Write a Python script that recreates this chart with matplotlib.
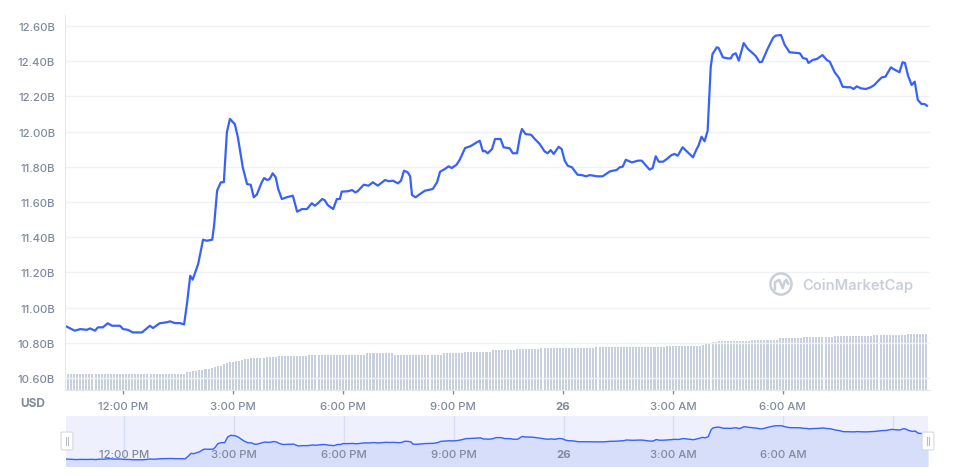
import numpy as np
import matplotlib.pyplot as plt
from matplotlib.patches import FancyBboxPatch, Circle

plt.rcParams['font.family'] = ['Inter', 'DejaVu Sans']

# minutes after 10:25 AM (Nov 25) and market cap in billions USD
minutes = [0, 16, 25, 36, 41, 49, 54, 62, 70, 77, 90, 95, 103, 111, 126, 139, 144, 155, 167, 172,
           180, 188, 195, 200, 205, 209, 218, 226, 232, 241, 244, 249, 255, 260, 265, 270, 275, 278,
           283, 291, 298, 304, 309, 314, 322, 326, 331, 335, 340, 345, 349, 355, 363, 373, 380, 388,
           396, 404, 409, 414, 421, 425, 430, 439, 445, 450, 453, 463, 470, 475, 479, 489, 497, 504,
           512, 524, 530, 537, 545, 550, 555, 561, 565, 568, 574, 581, 589, 594, 602, 609, 614, 622,
           628, 633, 641, 646, 655, 663, 668, 674, 679, 684, 687, 692, 699, 704, 713, 718, 728, 733,
           740, 745, 748, 754, 763, 769, 777, 785, 790, 795, 800, 808, 813, 818, 823, 830, 839, 846,
           853, 859, 871, 880, 892, 903, 908, 913, 918, 928, 938, 944, 957, 962, 967, 972, 979, 985,
           993, 998, 1003, 1011, 1028, 1034, 1037, 1042, 1047, 1052, 1057, 1060, 1067, 1070, 1077,
           1085, 1090, 1093, 1098, 1103, 1111, 1118, 1126, 1131, 1137, 1141, 1150, 1159, 1163, 1172,
           1178, 1186, 1198, 1203, 1208, 1214, 1217, 1224, 1231, 1240, 1247, 1252, 1260, 1267, 1273,
           1280, 1286, 1291, 1296, 1303, 1311, 1319, 1325, 1330, 1337, 1343, 1352, 1358, 1366, 1371,
           1375, 1380, 1386, 1391, 1396, 1402, 1407, 1411]
market_cap = [10.897, 10.869, 10.878, 10.874, 10.882, 10.869, 10.888, 10.888, 10.911, 10.897, 10.897,
              10.878, 10.874, 10.859, 10.859, 10.897, 10.884, 10.911, 10.917, 10.922, 10.912, 10.912,
              10.905, 11.032, 11.181, 11.159, 11.248, 11.386, 11.380, 11.386, 11.465, 11.664, 11.712,
              11.712, 11.996, 12.072, 12.053, 12.043, 11.968, 11.797, 11.702, 11.698, 11.627, 11.642,
              11.712, 11.736, 11.725, 11.731, 11.763, 11.740, 11.674, 11.617, 11.627, 11.636, 11.545,
              11.560, 11.560, 11.593, 11.579, 11.593, 11.617, 11.611, 11.583, 11.560, 11.617, 11.617,
              11.659, 11.661, 11.668, 11.655, 11.661, 11.698, 11.693, 11.712, 11.693, 11.725, 11.718,
              11.721, 11.706, 11.721, 11.778, 11.769, 11.746, 11.640, 11.627, 11.645, 11.664, 11.668,
              11.674, 11.712, 11.772, 11.788, 11.803, 11.793, 11.812, 11.839, 11.907, 11.916, 11.926,
              11.939, 11.948, 11.888, 11.891, 11.877, 11.901, 11.958, 11.958, 11.911, 11.905, 11.877,
              11.877, 11.977, 12.015, 11.986, 11.982, 11.958, 11.930, 11.888, 11.877, 11.895, 11.873,
              11.914, 11.901, 11.835, 11.806, 11.797, 11.755, 11.753, 11.746, 11.753, 11.746, 11.746,
              11.774, 11.782, 11.797, 11.801, 11.840, 11.825, 11.835, 11.835, 11.784, 11.793, 11.860,
              11.829, 11.829, 11.844, 11.867, 11.873, 11.863, 11.911, 11.854, 11.901, 11.920, 11.971,
              11.945, 12.005, 12.365, 12.441, 12.479, 12.475, 12.422, 12.416, 12.416, 12.437, 12.445,
              12.403, 12.503, 12.469, 12.445, 12.428, 12.394, 12.397, 12.469, 12.532, 12.545, 12.549,
              12.494, 12.451, 12.447, 12.445, 12.418, 12.413, 12.390, 12.407, 12.413, 12.435, 12.407,
              12.397, 12.337, 12.305, 12.255, 12.252, 12.252, 12.242, 12.257, 12.246, 12.242, 12.252,
              12.265, 12.284, 12.308, 12.312, 12.365, 12.352, 12.337, 12.394, 12.390, 12.318, 12.265,
              12.284, 12.180, 12.157, 12.157, 12.147]

# volume bars, one every 5 minutes, written as runs of equal height
vol_levels = [1.60, 1.77, 1.83, 1.90, 1.95, 2.00, 2.05, 2.10, 2.15, 2.25, 2.35, 2.45, 2.57, 2.70,
              2.78, 2.85, 2.90, 2.95, 3.03, 3.10, 3.13, 3.18, 3.20, 3.25, 3.27, 3.30, 3.35, 3.37,
              3.40, 3.50, 3.55, 3.67, 3.52, 3.55, 3.75, 3.85, 4.00, 4.10, 4.20, 4.30, 4.40, 4.50,
              4.60, 4.70, 4.80, 4.85, 4.95, 5.05, 5.20, 5.30, 5.40, 5.50, 5.60]
vol_runs = [40, 1, 1, 1, 1, 1, 1, 1, 1, 1, 1, 2, 1, 1,
            1, 1, 1, 1, 1, 1, 1, 1, 3, 1, 1, 2, 1, 1,
            9, 9, 10, 9, 4, 12, 7, 9, 8, 8, 18, 23, 12, 1,
            1, 1, 1, 1, 11, 9, 8, 10, 13, 11, 7]

tick_minutes = [720, 900, 1080, 1260, 1440, 1620, 1800]
tick_labels = ['12:00 PM', '3:00 PM', '6:00 PM', '9:00 PM', '26', '3:00 AM', '6:00 AM']
nav_grid = [720, 900, 1080, 1260, 1440, 1620, 1800, 1980]
price_ticks = [10.6, 10.8, 11.0, 11.2, 11.4, 11.6, 11.8, 12.0, 12.2, 12.4, 12.6]

start = 625  # 10:25 AM in minutes after midnight
t = np.array(minutes) + start
volume = np.repeat(vol_levels, vol_runs)
t_vol = start + 5 * np.arange(len(volume))

blue = '#3861fb'
label_c = '#808a9d'
grid_c = '#eff2f5'

fig = plt.figure(figsize=(9.56, 4.77), dpi=100)
W, H = 956, 477
pos = [65 / W, 1 - 391 / H, 865 / W, 375 / H]

ax_vol = fig.add_axes(pos)
ax_vol.bar(t_vol, volume, width=3.3, color='#c9d0dd', align='center')
ax_vol.set_ylim(0, 37.5)
ax_vol.set_xlim(start, start + 1416)
ax_vol.axis('off')

ax = fig.add_axes(pos, facecolor='none')
ax.plot(t, market_cap, color=blue, lw=1.6, solid_joinstyle='round')
ax.set_xlim(start, start + 1416)
ax.set_ylim(10.532, 12.6625)
ax.set_yticks(price_ticks)
ax.set_yticklabels(['%.2fB' % v for v in price_ticks])
ax.set_xticks(tick_minutes)
ax.set_xticklabels(tick_labels)
for lbl in ax.get_xticklabels() + ax.get_yticklabels():
    lbl.set_fontweight('medium')
    if lbl.get_text() == '26':
        lbl.set_fontweight('bold')
ax.yaxis.grid(True, color=grid_c, lw=1)
ax.set_axisbelow(True)
ax.tick_params(axis='y', length=0, pad=7, labelsize=8.2, labelcolor=label_c)
ax.tick_params(axis='x', length=3, width=1, color=label_c, pad=5, labelsize=8.2, labelcolor=label_c)
for s in ['top', 'right']:
    ax.spines[s].set_visible(False)
for s in ['left', 'bottom']:
    ax.spines[s].set_color('#e3e7ee')

fig.text(33 / W, 1 - 404 / H, 'USD', ha='center', va='center', fontsize=8.5,
         fontweight='bold', color=label_c)

# watermark
wm = '#c9ced9'
fig.text(802 / W, 1 - 286 / H, 'CoinMarketCap', ha='left', va='center', fontsize=10.6,
         fontweight='semibold', color=wm)
ax_logo = fig.add_axes([769 / W, 1 - 297 / H, 24 / W, 24 / H])
ax_logo.set_xlim(-1, 1)
ax_logo.set_ylim(-1, 1)
ax_logo.axis('off')
ax_logo.add_patch(Circle((0, 0), 0.88, fill=False, ec=wm, lw=1.8))
ax_logo.plot([-0.5, -0.5, -0.15, 0.0, 0.15, 0.3, 0.45, 0.6],
             [-0.45, 0.15, 0.35, 0.0, -0.35, 0.2, 0.35, 0.0], color=wm, lw=1.8,
             solid_capstyle='round')

# navigator
ax_nav = fig.add_axes([66 / W, 1 - 467 / H, 862 / W, 50 / H], facecolor='#eef1fd')
ax_nav.set_xlim(start, start + 1412)
ax_nav.set_ylim(10.55, 13.03)
for g in nav_grid:
    ax_nav.axvline(g, color='#d9dff2', lw=1, zorder=1)
ax_nav.fill_between(t, market_cap, 10.55, color='#d6defa', zorder=2)
ax_nav.plot(t, market_cap, color=blue, lw=1, zorder=3)
for m, lab in zip(tick_minutes, tick_labels):
    ax_nav.text(m, 0.24, lab, transform=ax_nav.get_xaxis_transform(), ha='center',
                va='center', fontsize=8.2, color=label_c, zorder=4,
                fontweight='bold' if lab == '26' else 'medium')
ax_nav.set_xticks([])
ax_nav.set_yticks([])
for s in ax_nav.spines.values():
    s.set_visible(False)

for hx in [67, 928]:
    fig.patches.append(FancyBboxPatch(((hx - 4) / W, 1 - 450 / H), 8 / W, 16 / H,
                                      boxstyle='round,pad=0.002', transform=fig.transFigure,
                                      fc='white', ec='#d5d9e2', lw=0.8, zorder=10))
    for dx in [-1.2, 1.2]:
        fig.lines.append(plt.Line2D([(hx + dx) / W] * 2, [1 - 446 / H, 1 - 438 / H],
                                    transform=fig.transFigure, color='#b7bdc9', lw=0.8,
                                    zorder=11))

fig.savefig('out.png', dpi=100)
